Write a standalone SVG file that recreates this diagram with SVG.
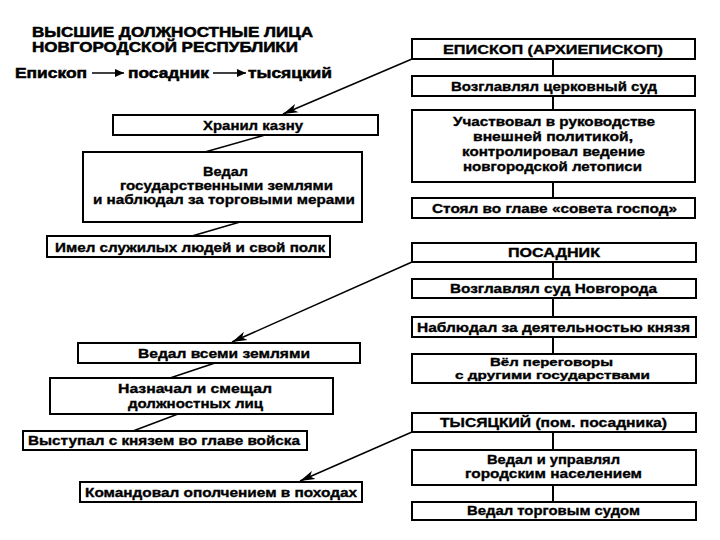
<svg xmlns="http://www.w3.org/2000/svg" width="720" height="540" viewBox="0 0 720 540">
<style>
  .box { fill: #ffffff; stroke: #000000; stroke-width: 2; }
  .t { font-family: "Liberation Sans", Arial, sans-serif; font-weight: bold; font-size: 13.5px; fill: #000000; stroke: #000000; stroke-width: 0.35; }
  .s { font-size: 11px; }
  .h { font-family: "Liberation Sans", Arial, sans-serif; font-weight: bold; font-size: 14px; fill: #000000; stroke: #000000; stroke-width: 0.5; }
  .ln { stroke: #000000; stroke-width: 1.5; fill: none; }
  .vl { stroke: #000000; stroke-width: 2; fill: none; }
</style>
<defs>
  <marker id="ah" markerUnits="userSpaceOnUse" markerWidth="16" markerHeight="10" refX="15" refY="5" orient="auto">
    <path d="M0,0.5 L15,5 L0,9.5 L4,5 Z" fill="#000000"/>
  </marker>
  <marker id="ahs" markerUnits="userSpaceOnUse" markerWidth="10" markerHeight="8" refX="9" refY="4" orient="auto">
    <path d="M0,0 L9,4 L0,8 Z" fill="#000000"/>
  </marker>
</defs>
<rect width="720" height="540" fill="#ffffff"/>

<g id="title">
  <text class="h" x="32" y="37" textLength="281" lengthAdjust="spacingAndGlyphs">ВЫСШИЕ ДОЛЖНОСТНЫЕ ЛИЦА</text>
  <text class="h" x="32" y="52" textLength="266" lengthAdjust="spacingAndGlyphs">НОВГОРОДСКОЙ РЕСПУБЛИКИ</text>
  <text class="h" x="15" y="78" textLength="72" lengthAdjust="spacingAndGlyphs">Епископ</text>
  <text class="h" x="128" y="78" textLength="81" lengthAdjust="spacingAndGlyphs">посадник</text>
  <text class="h" x="248" y="78" textLength="84" lengthAdjust="spacingAndGlyphs">тысяцкий</text>
  <line class="ln" x1="92" y1="73" x2="124" y2="73" marker-end="url(#ahs)"/>
  <line class="ln" x1="213" y1="73" x2="246" y2="73" marker-end="url(#ahs)"/>
</g>

<g id="connectors">
  <line class="vl" x1="553" y1="59" x2="553" y2="76"/>
  <line class="vl" x1="553" y1="96" x2="553" y2="110"/>
  <line class="vl" x1="553" y1="182" x2="553" y2="198"/>
  <line class="vl" x1="553" y1="262" x2="553" y2="279"/>
  <line class="vl" x1="553" y1="298" x2="553" y2="317"/>
  <line class="vl" x1="553" y1="337" x2="553" y2="354"/>
  <line class="vl" x1="553" y1="432" x2="553" y2="450"/>
  <line class="vl" x1="553" y1="485" x2="553" y2="502"/>
  <line class="ln" x1="205" y1="152" x2="265" y2="135"/>
  <line class="ln" x1="192" y1="236" x2="240" y2="222"/>
  <line class="ln" x1="170" y1="378" x2="215" y2="363"/>
  <line class="ln" x1="133" y1="431" x2="178" y2="414"/>
  <line class="ln" x1="412" y1="59" x2="283" y2="114" marker-end="url(#ah)"/>
  <line class="ln" x1="412" y1="262" x2="232" y2="342" marker-end="url(#ah)"/>
  <line class="ln" x1="412" y1="432" x2="300" y2="481" marker-end="url(#ah)"/>
</g>

<g id="bishop">
  <rect class="box" x="412" y="39" width="283" height="20"/>
  <text class="t" x="443" y="54" textLength="220" lengthAdjust="spacingAndGlyphs">ЕПИСКОП (АРХИЕПИСКОП)</text>
</g>
<g id="bishop-court">
  <rect class="box" x="412" y="76" width="283" height="20"/>
  <text class="t" x="451" y="91" textLength="206" lengthAdjust="spacingAndGlyphs">Возглавлял церковный суд</text>
</g>
<g id="bishop-policy">
  <rect class="box" x="412" y="110" width="283" height="72"/>
  <text class="t" x="453" y="126" textLength="202" lengthAdjust="spacingAndGlyphs">Участвовал в руководстве</text>
  <text class="t" x="473" y="141" textLength="160" lengthAdjust="spacingAndGlyphs">внешней политикой,</text>
  <text class="t" x="462" y="156" textLength="183" lengthAdjust="spacingAndGlyphs">контролировал ведение</text>
  <text class="t" x="463" y="171" textLength="179" lengthAdjust="spacingAndGlyphs">новгородской летописи</text>
</g>
<g id="bishop-council">
  <rect class="box" x="412" y="198" width="283" height="20"/>
  <text class="t" x="432" y="213" textLength="245" lengthAdjust="spacingAndGlyphs">Стоял во главе «совета господ»</text>
</g>

<g id="posadnik">
  <rect class="box" x="412" y="243" width="284" height="19"/>
  <text class="t" x="508" y="257" textLength="92" lengthAdjust="spacingAndGlyphs">ПОСАДНИК</text>
</g>
<g id="posadnik-court">
  <rect class="box" x="412" y="279" width="284" height="19"/>
  <text class="t" x="450" y="293" textLength="207" lengthAdjust="spacingAndGlyphs">Возглавлял суд Новгорода</text>
</g>
<g id="posadnik-prince">
  <rect class="box" x="412" y="317" width="284" height="20"/>
  <text class="t" x="417" y="332" textLength="273" lengthAdjust="spacingAndGlyphs">Наблюдал за деятельностью князя</text>
</g>
<g id="posadnik-talks">
  <rect class="box" x="412" y="354" width="284" height="29"/>
  <text class="t s" x="490" y="366" textLength="123" lengthAdjust="spacingAndGlyphs">Вёл переговоры</text>
  <text class="t s" x="455" y="379" textLength="195" lengthAdjust="spacingAndGlyphs">с другими государствами</text>
</g>

<g id="tysyatsky">
  <rect class="box" x="412" y="413" width="284" height="19"/>
  <text class="t" x="440" y="427" textLength="227" lengthAdjust="spacingAndGlyphs">ТЫСЯЦКИЙ (пом. посадника)</text>
</g>
<g id="tysyatsky-pop">
  <rect class="box" x="412" y="450" width="284" height="35"/>
  <text class="t" x="487" y="464" textLength="133" lengthAdjust="spacingAndGlyphs">Ведал и управлял</text>
  <text class="t" x="465" y="478" textLength="177" lengthAdjust="spacingAndGlyphs">городским населением</text>
</g>
<g id="tysyatsky-court">
  <rect class="box" x="412" y="502" width="284" height="18"/>
  <text class="t" x="467" y="515" textLength="173" lengthAdjust="spacingAndGlyphs">Ведал торговым судом</text>
</g>

<g id="treasury">
  <rect class="box" x="113" y="115" width="265" height="20"/>
  <text class="t" x="203" y="130" textLength="100" lengthAdjust="spacingAndGlyphs">Хранил казну</text>
</g>
<g id="lands">
  <rect class="box" x="83" y="152" width="279" height="70"/>
  <text class="t" x="203" y="176" textLength="45" lengthAdjust="spacingAndGlyphs">Ведал</text>
  <text class="t" x="120" y="190" textLength="213" lengthAdjust="spacingAndGlyphs">государственными землями</text>
  <text class="t" x="93" y="204" textLength="262" lengthAdjust="spacingAndGlyphs">и наблюдал за торговыми мерами</text>
</g>
<g id="regiment">
  <rect class="box" x="47" y="236" width="283" height="21"/>
  <text class="t" x="55" y="252" textLength="270" lengthAdjust="spacingAndGlyphs">Имел служилых людей и свой полк</text>
</g>

<g id="all-lands">
  <rect class="box" x="78" y="343" width="282" height="20"/>
  <text class="t" x="138" y="358" textLength="172" lengthAdjust="spacingAndGlyphs">Ведал всеми землями</text>
</g>
<g id="officials">
  <rect class="box" x="50" y="378" width="283" height="36"/>
  <text class="t" x="118" y="393" textLength="154" lengthAdjust="spacingAndGlyphs">Назначал и смещал</text>
  <text class="t" x="128" y="408" textLength="135" lengthAdjust="spacingAndGlyphs">должностных лиц</text>
</g>
<g id="army">
  <rect class="box" x="23" y="431" width="284" height="19"/>
  <text class="t" x="28" y="445" textLength="272" lengthAdjust="spacingAndGlyphs">Выступал с князем во главе войска</text>
</g>

<g id="militia">
  <rect class="box" x="80" y="482" width="282" height="20"/>
  <text class="t" x="85" y="497" textLength="272" lengthAdjust="spacingAndGlyphs">Командовал ополчением в походах</text>
</g>
</svg>
